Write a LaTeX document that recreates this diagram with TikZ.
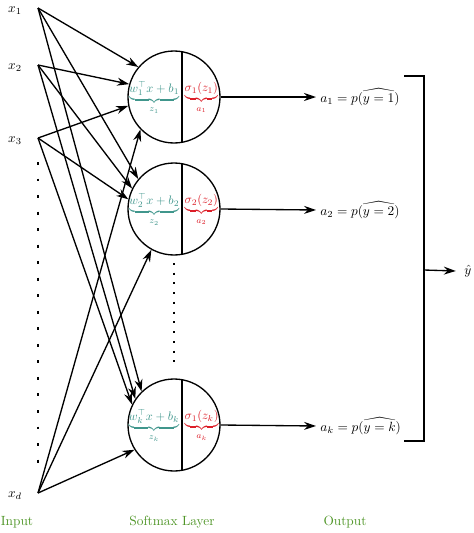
\documentclass[tikz,border=0pt]{standalone}
\usepackage{amsmath,amssymb}
\usetikzlibrary{arrows.meta,calc}
\definecolor{zteal}{RGB}{64,150,140}
\definecolor{ared}{RGB}{220,30,40}
\definecolor{lgreen}{RGB}{80,150,40}
\begin{document}
\begin{tikzpicture}[x=0.75pt,y=-0.75pt,>={Stealth[length=9pt,width=6pt]},
 arr/.style={->,line width=1pt},
 unit/.style={draw,circle,line width=1pt,minimum size=69pt,inner sep=0pt},
 zpart/.style={anchor=east,text=zteal,inner sep=0pt,scale=0.92},
 apart/.style={anchor=west,text=ared,inner sep=0pt,scale=0.92},
 inlbl/.style={anchor=center},
 outlbl/.style={anchor=west,inner sep=3pt},
 layer/.style={text=lgreen}]
\useasboundingbox (0,0) rectangle (474,533);
% inputs
\foreach \n/\y/\t in {1/8/x_1,2/65/x_2,3/138/x_3,d/493/x_d} {
  \coordinate (i\n) at (38,\y);
  \node[inlbl] (l\n) at (15,\y+3) {$\t$};
}
\draw[line width=2.2pt,dash pattern=on 2.2pt off 10.2pt] (38,162) -- (38,464);
% softmax units
\foreach \n/\y in {1/97,2/209,k/425} {
  \node[unit] (c\n) at (174,\y) {};
  \draw[line width=1pt] ($(c\n.center)+(8,-45.3)$) -- ($(c\n.center)+(8,45.3)$);
  \node[zpart] (z\n) at (179.5,\y+1) {$\underbrace{w_\n^\top x+b_\n}_{z_\n}$};
}
\node[apart] (s1) at (184.5,98) {$\underbrace{\sigma_1(z_1)}_{a_1}$};
\node[apart] (s2) at (184.5,210) {$\underbrace{\sigma_2(z_2)}_{a_2}$};
\node[apart] (sk) at (184.5,426) {$\underbrace{\sigma_1(z_k)}_{a_k}$};
\draw[line width=1.5pt,dash pattern=on 1.5pt off 5.8pt] (174,263) -- (174,364);
% connections, each entering the unit at its own angle
\foreach \i/\c/\a in {1/1/140,2/1/164,3/1/191,d/1/224,
                      1/2/140,2/2/154,3/2/168,d/2/241,
                      1/k/134,2/k/146,3/k/154,d/k/212}
  \draw[arr] (i\i) -- (c\c.\a);
% outputs
\node[outlbl] (o1) at (316,97) {$a_1=p(\widehat{y=1})$};
\node[outlbl] (o2) at (316,210) {$a_2=p(\widehat{y=2})$};
\node[outlbl] (ok) at (316,426) {$a_k=p(\widehat{y=k})$};
\foreach \n in {1,2,k}
  \draw[arr] (c\n.east) -- (o\n.west);
\draw[line width=1.2pt] (404,76) -- (424,76) -- (424,441) -- (404,441);
\coordinate (br) at (424,270);
\node (yhat) at (468,271) {$\hat{y}$};
\draw[arr] (br) -- ($(yhat.west)+(-4,0)$);
% layer names
\node[layer] (tin) at (17,522) {Input};
\node[layer] (tsm) at (172,522) {Softmax Layer};
\node[layer] (tout) at (345,522) {Output};
\end{tikzpicture}
\end{document}
